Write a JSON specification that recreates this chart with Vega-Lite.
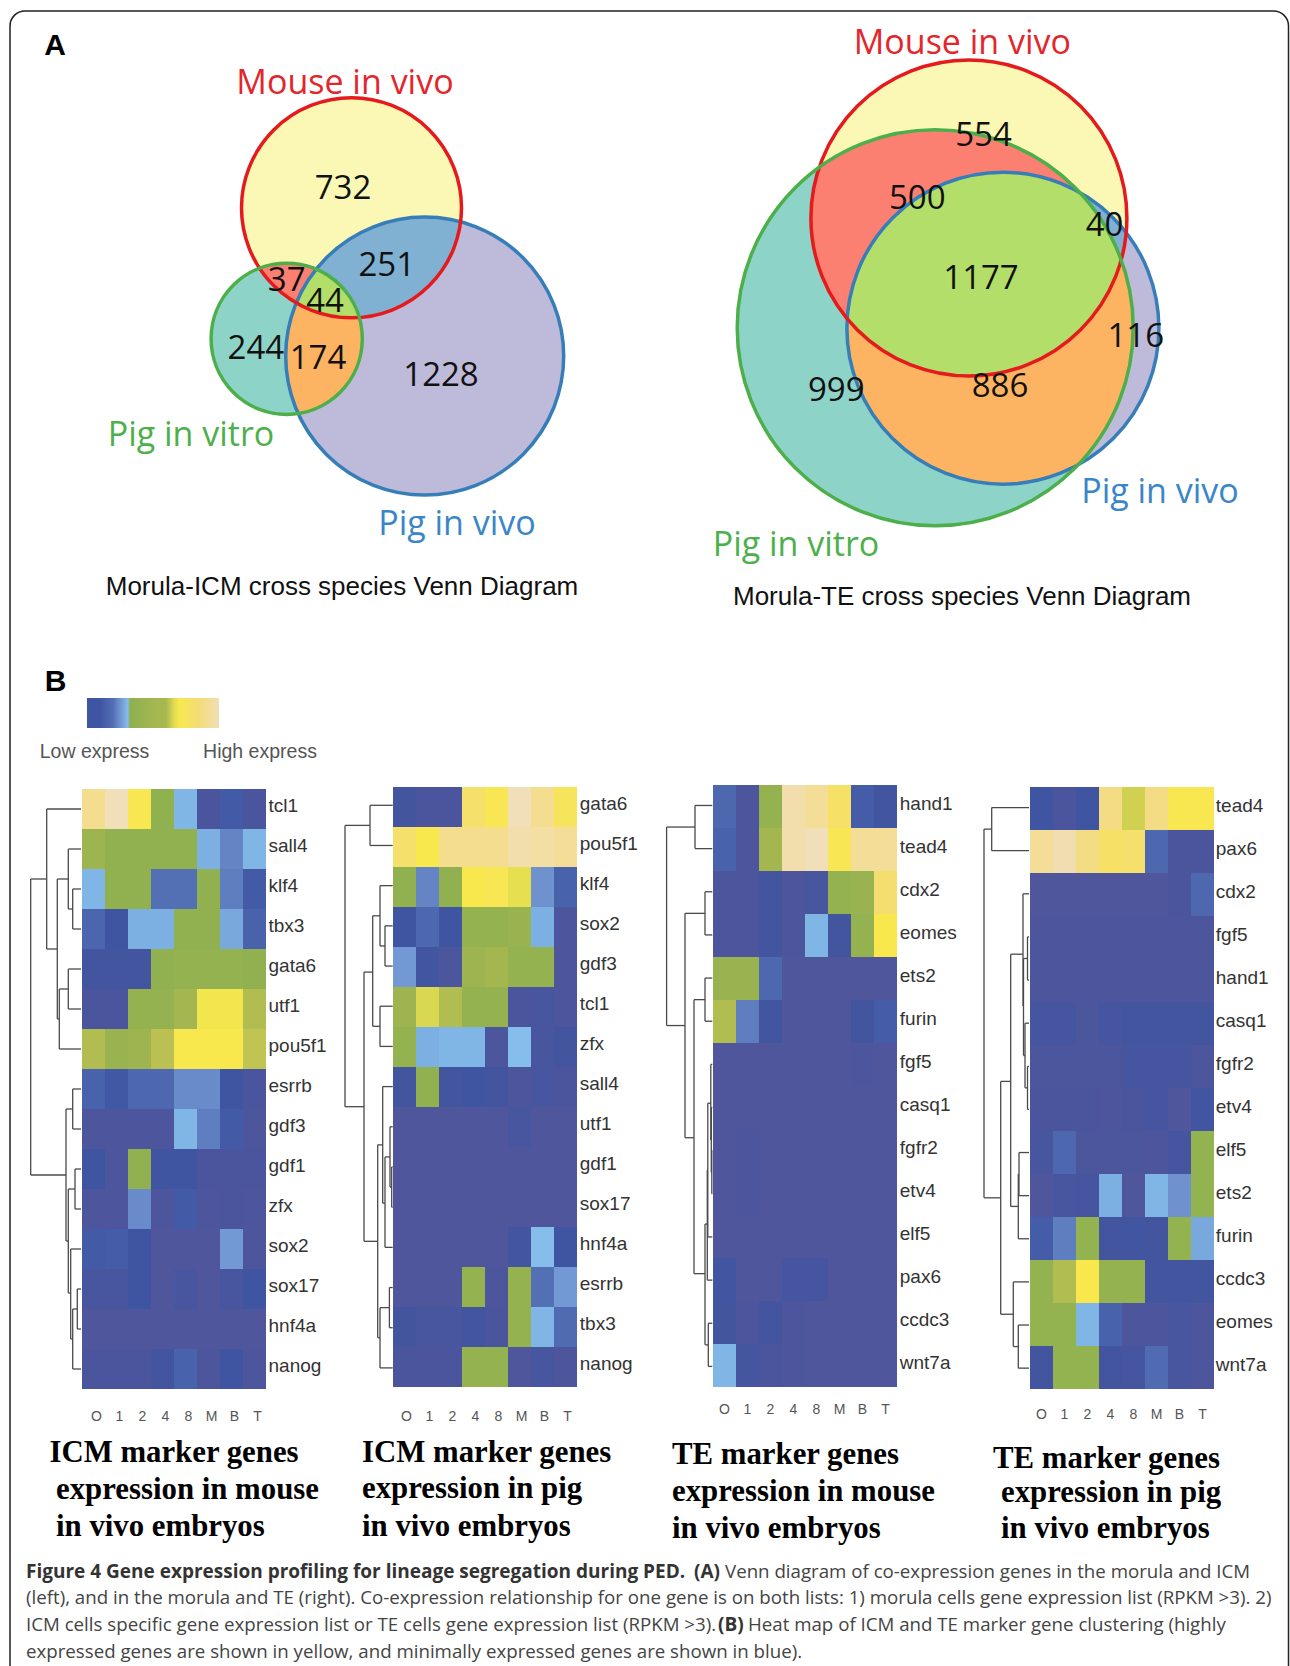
{"$schema":"https://vega.github.io/schema/vega-lite/v6.json","width":1290,"height":1666,"padding":0,"autosize":{"type":"none"},"background":"white","config":{"view":{"stroke":null}},
"resolve":{"scale":{"x":"independent","y":"independent","color":"independent"},"axis":{"x":"independent","y":"independent"}},
"datasets":{
"sets":[{"venn":"ICM","set":"Pig in vivo","x":424.7,"y":356.1,"r":139},{"venn":"ICM","set":"Mouse in vivo","x":351.5,"y":207.8,"r":110},{"venn":"ICM","set":"Pig in vitro","x":286.7,"y":338.8,"r":75.6},{"venn":"TE","set":"Pig in vivo","x":1002.9,"y":328.2,"r":156},{"venn":"TE","set":"Mouse in vivo","x":968.9,"y":218,"r":158},{"venn":"TE","set":"Pig in vitro","x":935.2,"y":327.8,"r":198}],
"h1":[
{"gene":"tcl1","stage":"O","value":0.9},{"gene":"tcl1","stage":"1","value":1},{"gene":"tcl1","stage":"2","value":0.71},{"gene":"tcl1","stage":"4","value":0.34},{"gene":"tcl1","stage":"8","value":0.3},{"gene":"tcl1","stage":"M","value":0.05},{"gene":"tcl1","stage":"B","value":0.12},{"gene":"tcl1","stage":"T","value":0.05},
{"gene":"sall4","stage":"O","value":0.45},{"gene":"sall4","stage":"1","value":0.36},{"gene":"sall4","stage":"2","value":0.36},{"gene":"sall4","stage":"4","value":0.36},{"gene":"sall4","stage":"8","value":0.36},{"gene":"sall4","stage":"M","value":0.29},{"gene":"sall4","stage":"B","value":0.23},{"gene":"sall4","stage":"T","value":0.3},
{"gene":"klf4","stage":"O","value":0.3},{"gene":"klf4","stage":"1","value":0.36},{"gene":"klf4","stage":"2","value":0.36},{"gene":"klf4","stage":"4","value":0.2},{"gene":"klf4","stage":"8","value":0.2},{"gene":"klf4","stage":"M","value":0.36},{"gene":"klf4","stage":"B","value":0.22},{"gene":"klf4","stage":"T","value":0.12},
{"gene":"tbx3","stage":"O","value":0.16},{"gene":"tbx3","stage":"1","value":0.1},{"gene":"tbx3","stage":"2","value":0.29},{"gene":"tbx3","stage":"4","value":0.29},{"gene":"tbx3","stage":"8","value":0.36},{"gene":"tbx3","stage":"M","value":0.36},{"gene":"tbx3","stage":"B","value":0.28},{"gene":"tbx3","stage":"T","value":0.15},
{"gene":"gata6","stage":"O","value":0.08},{"gene":"gata6","stage":"1","value":0.08},{"gene":"gata6","stage":"2","value":0.08},{"gene":"gata6","stage":"4","value":0.36},{"gene":"gata6","stage":"8","value":0.38},{"gene":"gata6","stage":"M","value":0.38},{"gene":"gata6","stage":"B","value":0.38},{"gene":"gata6","stage":"T","value":0.36},
{"gene":"utf1","stage":"O","value":0.05},{"gene":"utf1","stage":"1","value":0.05},{"gene":"utf1","stage":"2","value":0.38},{"gene":"utf1","stage":"4","value":0.38},{"gene":"utf1","stage":"8","value":0.5},{"gene":"utf1","stage":"M","value":0.69},{"gene":"utf1","stage":"B","value":0.69},{"gene":"utf1","stage":"T","value":0.55},
{"gene":"pou5f1","stage":"O","value":0.55},{"gene":"pou5f1","stage":"1","value":0.42},{"gene":"pou5f1","stage":"2","value":0.45},{"gene":"pou5f1","stage":"4","value":0.58},{"gene":"pou5f1","stage":"8","value":0.7},{"gene":"pou5f1","stage":"M","value":0.7},{"gene":"pou5f1","stage":"B","value":0.7},{"gene":"pou5f1","stage":"T","value":0.6},
{"gene":"esrrb","stage":"O","value":0.15},{"gene":"esrrb","stage":"1","value":0.11},{"gene":"esrrb","stage":"2","value":0.17},{"gene":"esrrb","stage":"4","value":0.17},{"gene":"esrrb","stage":"8","value":0.24},{"gene":"esrrb","stage":"M","value":0.24},{"gene":"esrrb","stage":"B","value":0.1},{"gene":"esrrb","stage":"T","value":0.05},
{"gene":"gdf3","stage":"O","value":0.03},{"gene":"gdf3","stage":"1","value":0.03},{"gene":"gdf3","stage":"2","value":0.03},{"gene":"gdf3","stage":"4","value":0.03},{"gene":"gdf3","stage":"8","value":0.3},{"gene":"gdf3","stage":"M","value":0.22},{"gene":"gdf3","stage":"B","value":0.12},{"gene":"gdf3","stage":"T","value":0.03},
{"gene":"gdf1","stage":"O","value":0.1},{"gene":"gdf1","stage":"1","value":0.03},{"gene":"gdf1","stage":"2","value":0.36},{"gene":"gdf1","stage":"4","value":0.1},{"gene":"gdf1","stage":"8","value":0.1},{"gene":"gdf1","stage":"M","value":0.05},{"gene":"gdf1","stage":"B","value":0.05},{"gene":"gdf1","stage":"T","value":0.05},
{"gene":"zfx","stage":"O","value":0.03},{"gene":"zfx","stage":"1","value":0.03},{"gene":"zfx","stage":"2","value":0.24},{"gene":"zfx","stage":"4","value":0.03},{"gene":"zfx","stage":"8","value":0.12},{"gene":"zfx","stage":"M","value":0.03},{"gene":"zfx","stage":"B","value":0.05},{"gene":"zfx","stage":"T","value":0.03},
{"gene":"sox2","stage":"O","value":0.12},{"gene":"sox2","stage":"1","value":0.13},{"gene":"sox2","stage":"2","value":0.1},{"gene":"sox2","stage":"4","value":0.02},{"gene":"sox2","stage":"8","value":0.02},{"gene":"sox2","stage":"M","value":0.02},{"gene":"sox2","stage":"B","value":0.26},{"gene":"sox2","stage":"T","value":0.03},
{"gene":"sox17","stage":"O","value":0.06},{"gene":"sox17","stage":"1","value":0.06},{"gene":"sox17","stage":"2","value":0.1},{"gene":"sox17","stage":"4","value":0.02},{"gene":"sox17","stage":"8","value":0.06},{"gene":"sox17","stage":"M","value":0.02},{"gene":"sox17","stage":"B","value":0.06},{"gene":"sox17","stage":"T","value":0.1},
{"gene":"hnf4a","stage":"O","value":0.02},{"gene":"hnf4a","stage":"1","value":0.02},{"gene":"hnf4a","stage":"2","value":0.02},{"gene":"hnf4a","stage":"4","value":0.02},{"gene":"hnf4a","stage":"8","value":0.02},{"gene":"hnf4a","stage":"M","value":0.02},{"gene":"hnf4a","stage":"B","value":0.02},{"gene":"hnf4a","stage":"T","value":0.02},
{"gene":"nanog","stage":"O","value":0.05},{"gene":"nanog","stage":"1","value":0.05},{"gene":"nanog","stage":"2","value":0.05},{"gene":"nanog","stage":"4","value":0.08},{"gene":"nanog","stage":"8","value":0.15},{"gene":"nanog","stage":"M","value":0.03},{"gene":"nanog","stage":"B","value":0.1},{"gene":"nanog","stage":"T","value":0.03}],
"h2":[
{"gene":"gata6","stage":"O","value":0.08},{"gene":"gata6","stage":"1","value":0.05},{"gene":"gata6","stage":"2","value":0.05},{"gene":"gata6","stage":"4","value":0.8},{"gene":"gata6","stage":"8","value":0.72},{"gene":"gata6","stage":"M","value":1},{"gene":"gata6","stage":"B","value":0.9},{"gene":"gata6","stage":"T","value":0.75},
{"gene":"pou5f1","stage":"O","value":0.8},{"gene":"pou5f1","stage":"1","value":0.7},{"gene":"pou5f1","stage":"2","value":0.9},{"gene":"pou5f1","stage":"4","value":0.9},{"gene":"pou5f1","stage":"8","value":0.9},{"gene":"pou5f1","stage":"M","value":0.97},{"gene":"pou5f1","stage":"B","value":0.95},{"gene":"pou5f1","stage":"T","value":0.92},
{"gene":"klf4","stage":"O","value":0.36},{"gene":"klf4","stage":"1","value":0.23},{"gene":"klf4","stage":"2","value":0.36},{"gene":"klf4","stage":"4","value":0.7},{"gene":"klf4","stage":"8","value":0.72},{"gene":"klf4","stage":"M","value":0.67},{"gene":"klf4","stage":"B","value":0.25},{"gene":"klf4","stage":"T","value":0.15},
{"gene":"sox2","stage":"O","value":0.1},{"gene":"sox2","stage":"1","value":0.17},{"gene":"sox2","stage":"2","value":0.1},{"gene":"sox2","stage":"4","value":0.38},{"gene":"sox2","stage":"8","value":0.38},{"gene":"sox2","stage":"M","value":0.42},{"gene":"sox2","stage":"B","value":0.29},{"gene":"sox2","stage":"T","value":0.03},
{"gene":"gdf3","stage":"O","value":0.26},{"gene":"gdf3","stage":"1","value":0.09},{"gene":"gdf3","stage":"2","value":0.04},{"gene":"gdf3","stage":"4","value":0.45},{"gene":"gdf3","stage":"8","value":0.5},{"gene":"gdf3","stage":"M","value":0.38},{"gene":"gdf3","stage":"B","value":0.38},{"gene":"gdf3","stage":"T","value":0.03},
{"gene":"tcl1","stage":"O","value":0.45},{"gene":"tcl1","stage":"1","value":0.65},{"gene":"tcl1","stage":"2","value":0.55},{"gene":"tcl1","stage":"4","value":0.38},{"gene":"tcl1","stage":"8","value":0.38},{"gene":"tcl1","stage":"M","value":0.05},{"gene":"tcl1","stage":"B","value":0.06},{"gene":"tcl1","stage":"T","value":0.03},
{"gene":"zfx","stage":"O","value":0.38},{"gene":"zfx","stage":"1","value":0.29},{"gene":"zfx","stage":"2","value":0.3},{"gene":"zfx","stage":"4","value":0.3},{"gene":"zfx","stage":"8","value":0.04},{"gene":"zfx","stage":"M","value":0.31},{"gene":"zfx","stage":"B","value":0.06},{"gene":"zfx","stage":"T","value":0.08},
{"gene":"sall4","stage":"O","value":0.08},{"gene":"sall4","stage":"1","value":0.36},{"gene":"sall4","stage":"2","value":0.08},{"gene":"sall4","stage":"4","value":0.1},{"gene":"sall4","stage":"8","value":0.08},{"gene":"sall4","stage":"M","value":0.03},{"gene":"sall4","stage":"B","value":0.06},{"gene":"sall4","stage":"T","value":0.05},
{"gene":"utf1","stage":"O","value":0.02},{"gene":"utf1","stage":"1","value":0.02},{"gene":"utf1","stage":"2","value":0.02},{"gene":"utf1","stage":"4","value":0.02},{"gene":"utf1","stage":"8","value":0.02},{"gene":"utf1","stage":"M","value":0.06},{"gene":"utf1","stage":"B","value":0.02},{"gene":"utf1","stage":"T","value":0.02},
{"gene":"gdf1","stage":"O","value":0.02},{"gene":"gdf1","stage":"1","value":0.02},{"gene":"gdf1","stage":"2","value":0.02},{"gene":"gdf1","stage":"4","value":0.02},{"gene":"gdf1","stage":"8","value":0.02},{"gene":"gdf1","stage":"M","value":0.02},{"gene":"gdf1","stage":"B","value":0.02},{"gene":"gdf1","stage":"T","value":0.02},
{"gene":"sox17","stage":"O","value":0.02},{"gene":"sox17","stage":"1","value":0.02},{"gene":"sox17","stage":"2","value":0.02},{"gene":"sox17","stage":"4","value":0.02},{"gene":"sox17","stage":"8","value":0.02},{"gene":"sox17","stage":"M","value":0.02},{"gene":"sox17","stage":"B","value":0.02},{"gene":"sox17","stage":"T","value":0.02},
{"gene":"hnf4a","stage":"O","value":0.02},{"gene":"hnf4a","stage":"1","value":0.02},{"gene":"hnf4a","stage":"2","value":0.02},{"gene":"hnf4a","stage":"4","value":0.02},{"gene":"hnf4a","stage":"8","value":0.02},{"gene":"hnf4a","stage":"M","value":0.08},{"gene":"hnf4a","stage":"B","value":0.31},{"gene":"hnf4a","stage":"T","value":0.1},
{"gene":"esrrb","stage":"O","value":0.02},{"gene":"esrrb","stage":"1","value":0.02},{"gene":"esrrb","stage":"2","value":0.02},{"gene":"esrrb","stage":"4","value":0.38},{"gene":"esrrb","stage":"8","value":0.03},{"gene":"esrrb","stage":"M","value":0.38},{"gene":"esrrb","stage":"B","value":0.2},{"gene":"esrrb","stage":"T","value":0.26},
{"gene":"tbx3","stage":"O","value":0.08},{"gene":"tbx3","stage":"1","value":0.06},{"gene":"tbx3","stage":"2","value":0.06},{"gene":"tbx3","stage":"4","value":0.08},{"gene":"tbx3","stage":"8","value":0.05},{"gene":"tbx3","stage":"M","value":0.38},{"gene":"tbx3","stage":"B","value":0.3},{"gene":"tbx3","stage":"T","value":0.18},
{"gene":"nanog","stage":"O","value":0.05},{"gene":"nanog","stage":"1","value":0.05},{"gene":"nanog","stage":"2","value":0.05},{"gene":"nanog","stage":"4","value":0.38},{"gene":"nanog","stage":"8","value":0.38},{"gene":"nanog","stage":"M","value":0.02},{"gene":"nanog","stage":"B","value":0.06},{"gene":"nanog","stage":"T","value":0.03}],
"h3":[
{"gene":"hand1","stage":"O","value":0.17},{"gene":"hand1","stage":"1","value":0.03},{"gene":"hand1","stage":"2","value":0.38},{"gene":"hand1","stage":"4","value":0.97},{"gene":"hand1","stage":"8","value":0.92},{"gene":"hand1","stage":"M","value":0.78},{"gene":"hand1","stage":"B","value":0.13},{"gene":"hand1","stage":"T","value":0.09},
{"gene":"tead4","stage":"O","value":0.15},{"gene":"tead4","stage":"1","value":0.03},{"gene":"tead4","stage":"2","value":0.5},{"gene":"tead4","stage":"4","value":0.97},{"gene":"tead4","stage":"8","value":1},{"gene":"tead4","stage":"M","value":0.72},{"gene":"tead4","stage":"B","value":0.92},{"gene":"tead4","stage":"T","value":0.92},
{"gene":"cdx2","stage":"O","value":0.03},{"gene":"cdx2","stage":"1","value":0.03},{"gene":"cdx2","stage":"2","value":0.08},{"gene":"cdx2","stage":"4","value":0.03},{"gene":"cdx2","stage":"8","value":0.06},{"gene":"cdx2","stage":"M","value":0.38},{"gene":"cdx2","stage":"B","value":0.42},{"gene":"cdx2","stage":"T","value":0.82},
{"gene":"eomes","stage":"O","value":0.03},{"gene":"eomes","stage":"1","value":0.03},{"gene":"eomes","stage":"2","value":0.08},{"gene":"eomes","stage":"4","value":0.03},{"gene":"eomes","stage":"8","value":0.3},{"gene":"eomes","stage":"M","value":0.08},{"gene":"eomes","stage":"B","value":0.38},{"gene":"eomes","stage":"T","value":0.7},
{"gene":"ets2","stage":"O","value":0.42},{"gene":"ets2","stage":"1","value":0.42},{"gene":"ets2","stage":"2","value":0.17},{"gene":"ets2","stage":"4","value":0.02},{"gene":"ets2","stage":"8","value":0.02},{"gene":"ets2","stage":"M","value":0.02},{"gene":"ets2","stage":"B","value":0.02},{"gene":"ets2","stage":"T","value":0.02},
{"gene":"furin","stage":"O","value":0.55},{"gene":"furin","stage":"1","value":0.22},{"gene":"furin","stage":"2","value":0.09},{"gene":"furin","stage":"4","value":0.02},{"gene":"furin","stage":"8","value":0.02},{"gene":"furin","stage":"M","value":0.02},{"gene":"furin","stage":"B","value":0.08},{"gene":"furin","stage":"T","value":0.13},
{"gene":"fgf5","stage":"O","value":0.02},{"gene":"fgf5","stage":"1","value":0.02},{"gene":"fgf5","stage":"2","value":0.02},{"gene":"fgf5","stage":"4","value":0.02},{"gene":"fgf5","stage":"8","value":0.02},{"gene":"fgf5","stage":"M","value":0.02},{"gene":"fgf5","stage":"B","value":0.03},{"gene":"fgf5","stage":"T","value":0.02},
{"gene":"casq1","stage":"O","value":0.02},{"gene":"casq1","stage":"1","value":0.02},{"gene":"casq1","stage":"2","value":0.02},{"gene":"casq1","stage":"4","value":0.02},{"gene":"casq1","stage":"8","value":0.02},{"gene":"casq1","stage":"M","value":0.02},{"gene":"casq1","stage":"B","value":0.02},{"gene":"casq1","stage":"T","value":0.02},
{"gene":"fgfr2","stage":"O","value":0.02},{"gene":"fgfr2","stage":"1","value":0.03},{"gene":"fgfr2","stage":"2","value":0.02},{"gene":"fgfr2","stage":"4","value":0.02},{"gene":"fgfr2","stage":"8","value":0.02},{"gene":"fgfr2","stage":"M","value":0.02},{"gene":"fgfr2","stage":"B","value":0.02},{"gene":"fgfr2","stage":"T","value":0.02},
{"gene":"etv4","stage":"O","value":0.02},{"gene":"etv4","stage":"1","value":0.03},{"gene":"etv4","stage":"2","value":0.02},{"gene":"etv4","stage":"4","value":0.02},{"gene":"etv4","stage":"8","value":0.02},{"gene":"etv4","stage":"M","value":0.02},{"gene":"etv4","stage":"B","value":0.02},{"gene":"etv4","stage":"T","value":0.02},
{"gene":"elf5","stage":"O","value":0.02},{"gene":"elf5","stage":"1","value":0.02},{"gene":"elf5","stage":"2","value":0.02},{"gene":"elf5","stage":"4","value":0.02},{"gene":"elf5","stage":"8","value":0.02},{"gene":"elf5","stage":"M","value":0.02},{"gene":"elf5","stage":"B","value":0.02},{"gene":"elf5","stage":"T","value":0.02},
{"gene":"pax6","stage":"O","value":0.09},{"gene":"pax6","stage":"1","value":0.02},{"gene":"pax6","stage":"2","value":0.02},{"gene":"pax6","stage":"4","value":0.07},{"gene":"pax6","stage":"8","value":0.07},{"gene":"pax6","stage":"M","value":0.02},{"gene":"pax6","stage":"B","value":0.02},{"gene":"pax6","stage":"T","value":0.02},
{"gene":"ccdc3","stage":"O","value":0.08},{"gene":"ccdc3","stage":"1","value":0.03},{"gene":"ccdc3","stage":"2","value":0.08},{"gene":"ccdc3","stage":"4","value":0.03},{"gene":"ccdc3","stage":"8","value":0.02},{"gene":"ccdc3","stage":"M","value":0.02},{"gene":"ccdc3","stage":"B","value":0.02},{"gene":"ccdc3","stage":"T","value":0.02},
{"gene":"wnt7a","stage":"O","value":0.3},{"gene":"wnt7a","stage":"1","value":0.07},{"gene":"wnt7a","stage":"2","value":0.05},{"gene":"wnt7a","stage":"4","value":0.03},{"gene":"wnt7a","stage":"8","value":0.02},{"gene":"wnt7a","stage":"M","value":0.02},{"gene":"wnt7a","stage":"B","value":0.02},{"gene":"wnt7a","stage":"T","value":0.02}],
"h4":[
{"gene":"tead4","stage":"O","value":0.1},{"gene":"tead4","stage":"1","value":0.05},{"gene":"tead4","stage":"2","value":0.1},{"gene":"tead4","stage":"4","value":0.88},{"gene":"tead4","stage":"8","value":0.63},{"gene":"tead4","stage":"M","value":0.88},{"gene":"tead4","stage":"B","value":0.71},{"gene":"tead4","stage":"T","value":0.71},
{"gene":"pax6","stage":"O","value":0.92},{"gene":"pax6","stage":"1","value":0.98},{"gene":"pax6","stage":"2","value":0.88},{"gene":"pax6","stage":"4","value":0.78},{"gene":"pax6","stage":"8","value":0.8},{"gene":"pax6","stage":"M","value":0.17},{"gene":"pax6","stage":"B","value":0.05},{"gene":"pax6","stage":"T","value":0.05},
{"gene":"cdx2","stage":"O","value":0.02},{"gene":"cdx2","stage":"1","value":0.02},{"gene":"cdx2","stage":"2","value":0.02},{"gene":"cdx2","stage":"4","value":0.02},{"gene":"cdx2","stage":"8","value":0.02},{"gene":"cdx2","stage":"M","value":0.02},{"gene":"cdx2","stage":"B","value":0.05},{"gene":"cdx2","stage":"T","value":0.17},
{"gene":"fgf5","stage":"O","value":0.03},{"gene":"fgf5","stage":"1","value":0.03},{"gene":"fgf5","stage":"2","value":0.03},{"gene":"fgf5","stage":"4","value":0.03},{"gene":"fgf5","stage":"8","value":0.03},{"gene":"fgf5","stage":"M","value":0.03},{"gene":"fgf5","stage":"B","value":0.03},{"gene":"fgf5","stage":"T","value":0.03},
{"gene":"hand1","stage":"O","value":0.03},{"gene":"hand1","stage":"1","value":0.03},{"gene":"hand1","stage":"2","value":0.03},{"gene":"hand1","stage":"4","value":0.03},{"gene":"hand1","stage":"8","value":0.03},{"gene":"hand1","stage":"M","value":0.03},{"gene":"hand1","stage":"B","value":0.03},{"gene":"hand1","stage":"T","value":0.03},
{"gene":"casq1","stage":"O","value":0.07},{"gene":"casq1","stage":"1","value":0.07},{"gene":"casq1","stage":"2","value":0.04},{"gene":"casq1","stage":"4","value":0.07},{"gene":"casq1","stage":"8","value":0.08},{"gene":"casq1","stage":"M","value":0.08},{"gene":"casq1","stage":"B","value":0.08},{"gene":"casq1","stage":"T","value":0.08},
{"gene":"fgfr2","stage":"O","value":0.04},{"gene":"fgfr2","stage":"1","value":0.04},{"gene":"fgfr2","stage":"2","value":0.04},{"gene":"fgfr2","stage":"4","value":0.04},{"gene":"fgfr2","stage":"8","value":0.07},{"gene":"fgfr2","stage":"M","value":0.07},{"gene":"fgfr2","stage":"B","value":0.07},{"gene":"fgfr2","stage":"T","value":0.03},
{"gene":"etv4","stage":"O","value":0.05},{"gene":"etv4","stage":"1","value":0.05},{"gene":"etv4","stage":"2","value":0.05},{"gene":"etv4","stage":"4","value":0.03},{"gene":"etv4","stage":"8","value":0.05},{"gene":"etv4","stage":"M","value":0.07},{"gene":"etv4","stage":"B","value":0.02},{"gene":"etv4","stage":"T","value":0.09},
{"gene":"elf5","stage":"O","value":0.06},{"gene":"elf5","stage":"1","value":0.17},{"gene":"elf5","stage":"2","value":0.04},{"gene":"elf5","stage":"4","value":0.04},{"gene":"elf5","stage":"8","value":0.04},{"gene":"elf5","stage":"M","value":0.03},{"gene":"elf5","stage":"B","value":0.07},{"gene":"elf5","stage":"T","value":0.37},
{"gene":"ets2","stage":"O","value":0.02},{"gene":"ets2","stage":"1","value":0.06},{"gene":"ets2","stage":"2","value":0.07},{"gene":"ets2","stage":"4","value":0.29},{"gene":"ets2","stage":"8","value":0.02},{"gene":"ets2","stage":"M","value":0.3},{"gene":"ets2","stage":"B","value":0.25},{"gene":"ets2","stage":"T","value":0.37},
{"gene":"furin","stage":"O","value":0.13},{"gene":"furin","stage":"1","value":0.22},{"gene":"furin","stage":"2","value":0.37},{"gene":"furin","stage":"4","value":0.08},{"gene":"furin","stage":"8","value":0.09},{"gene":"furin","stage":"M","value":0.08},{"gene":"furin","stage":"B","value":0.37},{"gene":"furin","stage":"T","value":0.28},
{"gene":"ccdc3","stage":"O","value":0.37},{"gene":"ccdc3","stage":"1","value":0.55},{"gene":"ccdc3","stage":"2","value":0.7},{"gene":"ccdc3","stage":"4","value":0.38},{"gene":"ccdc3","stage":"8","value":0.38},{"gene":"ccdc3","stage":"M","value":0.08},{"gene":"ccdc3","stage":"B","value":0.08},{"gene":"ccdc3","stage":"T","value":0.08},
{"gene":"eomes","stage":"O","value":0.37},{"gene":"eomes","stage":"1","value":0.37},{"gene":"eomes","stage":"2","value":0.3},{"gene":"eomes","stage":"4","value":0.15},{"gene":"eomes","stage":"8","value":0.03},{"gene":"eomes","stage":"M","value":0.03},{"gene":"eomes","stage":"B","value":0.06},{"gene":"eomes","stage":"T","value":0.03},
{"gene":"wnt7a","stage":"O","value":0.08},{"gene":"wnt7a","stage":"1","value":0.37},{"gene":"wnt7a","stage":"2","value":0.37},{"gene":"wnt7a","stage":"4","value":0.08},{"gene":"wnt7a","stage":"8","value":0.07},{"gene":"wnt7a","stage":"M","value":0.18},{"gene":"wnt7a","stage":"B","value":0.06},{"gene":"wnt7a","stage":"T","value":0.03}],
"d1":[{"d":8.3,"r1":2.5,"d1":0,"r2":3.5,"d2":0},{"d":12.7,"r1":1.5,"d1":0,"r2":3,"d2":8.3},{"d":12.7,"r1":4.5,"d1":0,"r2":5.5,"d2":0},{"d":21.7,"r1":5,"d1":12.7,"r2":6.5,"d2":0},{"d":23.7,"r1":2.25,"d1":12.7,"r2":5.75,"d2":21.7},{"d":34.3,"r1":0.5,"d1":0,"r2":4,"d2":23.7},{"d":8.3,"r1":7.5,"d1":0,"r2":8.5,"d2":0},{"d":6,"r1":9.5,"d1":0,"r2":10.5,"d2":0},{"d":3.7,"r1":12.5,"d1":0,"r2":13.5,"d2":0},{"d":8.3,"r1":13,"d1":3.7,"r2":14.5,"d2":0},{"d":10.3,"r1":11.5,"d1":0,"r2":13.75,"d2":8.3},{"d":12.7,"r1":10,"d1":6,"r2":12.6,"d2":10.3},{"d":15,"r1":8,"d1":8.3,"r2":11.3,"d2":12.7},{"d":50.3,"r1":2.25,"d1":34.3,"r2":9.65,"d2":15}],
"d2":[{"d":22.7,"r1":0.5,"d1":0,"r2":1.5,"d2":0},{"d":7.7,"r1":3.5,"d1":0,"r2":4.5,"d2":0},{"d":12.7,"r1":2.5,"d1":0,"r2":4,"d2":7.7},{"d":12.7,"r1":5.5,"d1":0,"r2":6.5,"d2":0},{"d":20,"r1":3.25,"d1":12.7,"r2":6,"d2":12.7},{"d":1,"r1":9.5,"d1":0,"r2":10.5,"d2":0},{"d":2.7,"r1":8.5,"d1":0,"r2":10,"d2":1},{"d":7.7,"r1":9.25,"d1":2.7,"r2":11.5,"d2":0},{"d":10,"r1":7.5,"d1":0,"r2":10.4,"d2":7.7},{"d":3.3,"r1":12.5,"d1":0,"r2":13.5,"d2":0},{"d":12.7,"r1":13,"d1":3.3,"r2":14.5,"d2":0},{"d":15,"r1":8.95,"d1":10,"r2":13.75,"d2":12.7},{"d":28.7,"r1":4.65,"d1":20,"r2":11.35,"d2":15},{"d":47.7,"r1":1,"d1":22.7,"r2":8,"d2":28.7}],
"d3":[{"d":17.3,"r1":0.5,"d1":0,"r2":1.5,"d2":0},{"d":7.3,"r1":2.5,"d1":0,"r2":3.5,"d2":0},{"d":7.3,"r1":4.5,"d1":0,"r2":5.5,"d2":0},{"d":0.5,"r1":8.5,"d1":0,"r2":9.5,"d2":0},{"d":1,"r1":7.5,"d1":0,"r2":9,"d2":0.5},{"d":1.5,"r1":6.5,"d1":0,"r2":8.25,"d2":1},{"d":4.5,"r1":7.4,"d1":1.5,"r2":10.5,"d2":0},{"d":5,"r1":8.95,"d1":4.5,"r2":11.5,"d2":0},{"d":4,"r1":12.5,"d1":0,"r2":13.5,"d2":0},{"d":7.3,"r1":10.2,"d1":5,"r2":13,"d2":4},{"d":18.3,"r1":5,"d1":7.3,"r2":11.35,"d2":7.3},{"d":27.3,"r1":3,"d1":7.3,"r2":8.2,"d2":18.3},{"d":45.7,"r1":1,"d1":17.3,"r2":5.6,"d2":27.3}],
"d4":[{"d":37.3,"r1":0.5,"d1":0,"r2":1.5,"d2":0},{"d":1.5,"r1":6.5,"d1":0,"r2":7.5,"d2":0},{"d":4,"r1":5.5,"d1":0,"r2":7,"d2":1.5},{"d":1.5,"r1":3.5,"d1":0,"r2":4.5,"d2":0},{"d":5.5,"r1":4,"d1":1.5,"r2":6.25,"d2":4},{"d":6,"r1":2.5,"d1":0,"r2":5.1,"d2":5.5},{"d":10,"r1":8.5,"d1":0,"r2":9.5,"d2":0},{"d":10.7,"r1":9,"d1":10,"r2":10.5,"d2":0},{"d":18.3,"r1":3.9,"d1":6,"r2":9.75,"d2":10.7},{"d":10.7,"r1":12.5,"d1":0,"r2":13.5,"d2":0},{"d":15.7,"r1":11.5,"d1":0,"r2":13,"d2":10.7},{"d":28.3,"r1":6.85,"d1":18.3,"r2":12.25,"d2":15.7},{"d":45,"r1":1,"d1":37.3,"r2":9.55,"d2":28.3}]
},
"layer":[
{"encoding":{"x":{"field":"x","type":"quantitative","axis":null,"scale":{"domain":[0,1290],"range":[0,1290],"nice":false,"zero":false}},"y":{"field":"y","type":"quantitative","axis":null,"scale":{"domain":[0,1666],"range":[0,1666],"nice":false,"zero":false}}},
"layer":[
{"data":{"values":[{"x":649.5,"y":838,"item":"frame"}]},"mark":{"type":"point","shape":"M-639.5 840L-639.5 -812A15 15 0 0 1 -624.5 -827L624 -827A15 15 0 0 1 639 -812L639 840","size":4,"filled":false,"stroke":"#222222","strokeWidth":1.5,"opacity":1}},
{"data":{"name":"sets"},"mark":{"type":"point","filled":true,"opacity":1,"strokeWidth":0},"encoding":{"size":{"field":"r","type":"quantitative","legend":null,"scale":{"type":"pow","exponent":2,"domain":[0,200],"range":[0,160000]}},"fill":{"field":"set","type":"nominal","legend":null,"scale":{"domain":["Mouse in vivo","Pig in vivo","Pig in vitro","Mouse and Pig in vitro","Mouse and Pig in vivo","Pig in vitro and in vivo","All three"],"range":["#FBF7B5","#BEBADA","#8DD3C7","#FB8072","#80B1D3","#FDB462","#B3DE69"]}}}},
{"data":{"values":[
{"x":350,"y":300,"venn":"ICM","region":"Mouse and Pig in vitro","path":"a"},
{"x":350,"y":300,"venn":"ICM","region":"Mouse and Pig in vivo","path":"b"},
{"x":350,"y":300,"venn":"ICM","region":"Pig in vitro and in vivo","path":"c"},
{"x":350,"y":300,"venn":"ICM","region":"All three","path":"d"},
{"x":970,"y":300,"venn":"TE","region":"Mouse and Pig in vitro","path":"e"},
{"x":970,"y":300,"venn":"TE","region":"Mouse and Pig in vivo","path":"f"},
{"x":970,"y":300,"venn":"TE","region":"Pig in vitro and in vivo","path":"g"},
{"x":970,"y":300,"venn":"TE","region":"All three","path":"h"}]},
"mark":{"type":"point","filled":true,"opacity":1,"size":4,"strokeWidth":0},"encoding":{
"shape":{"field":"path","type":"nominal","legend":null,"scale":{"domain":["a","b","c","d","e","f","g","h"],"range":[
"M-90.42 -31.77A75.6 75.6 0 0 1 9.24 17.53A110 110 0 0 1 -90.42 -31.77Z",
"M-53.7 2.9A139 139 0 0 1 110.56 -78.18A110 110 0 0 1 -53.7 2.9Z",
"M-51.88 113.54A139 139 0 0 1 -33.78 -30.8A75.6 75.6 0 0 1 -51.88 113.54Z",
"M-53.7 2.9A139 139 0 0 1 -33.78 -30.8A75.6 75.6 0 0 1 9.24 17.53A110 110 0 0 1 -53.7 2.9Z",
"M-150.73 -132.7A198 198 0 0 1 151.2 -40.02A158 158 0 1 1 -150.73 -132.7Z",
"M-122.8 18.73A156 156 0 0 1 156.2 -67.35A158 158 0 0 1 -122.8 18.73Z",
"M109.66 -107.61A198 198 0 0 1 108.06 164.91A156 156 0 1 1 109.66 -107.61Z",
"M-122.8 18.73A156 156 0 0 1 109.66 -107.61A198 198 0 0 1 151.2 -40.02A158 158 0 0 1 -122.8 18.73Z"]}},
"fill":{"field":"region","type":"nominal","legend":null,"scale":{"domain":["Mouse in vivo","Pig in vivo","Pig in vitro","Mouse and Pig in vitro","Mouse and Pig in vivo","Pig in vitro and in vivo","All three"],"range":["#FBF7B5","#BEBADA","#8DD3C7","#FB8072","#80B1D3","#FDB462","#B3DE69"]}}}},
{"data":{"name":"sets"},"mark":{"type":"point","filled":false,"opacity":1,"strokeWidth":3.5},"encoding":{"size":{"field":"r","type":"quantitative","legend":null,"scale":{"type":"pow","exponent":2,"domain":[0,200],"range":[0,160000]}},"stroke":{"field":"set","type":"nominal","legend":null,"scale":{"domain":["Mouse in vivo","Pig in vivo","Pig in vitro"],"range":["#E41A1C","#377EB8","#4DAF4A"]}}}},
{"data":{"values":[{"x":345,"y":94,"text":"Mouse in vivo","set":"Mouse in vivo"},{"x":191,"y":445.7,"text":"Pig in vitro","set":"Pig in vitro"},{"x":457,"y":534.7,"text":"Pig in vivo","set":"Pig in vivo"},{"x":962.4,"y":54,"text":"Mouse in vivo","set":"Mouse in vivo"},{"x":796,"y":556,"text":"Pig in vitro","set":"Pig in vitro"},{"x":1160,"y":503,"text":"Pig in vivo","set":"Pig in vivo"}]},"mark":{"type":"text","font":"Open Sans","fontSize":34,"align":"center","baseline":"alphabetic"},"encoding":{"text":{"field":"text"},"color":{"field":"set","type":"nominal","legend":null,"scale":{"domain":["Mouse in vivo","Pig in vivo","Pig in vitro"],"range":["#E4262C","#3A86C8","#4DB04A"]}}}},
{"data":{"values":[{"x":343,"y":198.8,"text":"732"},{"x":386.7,"y":275.5,"text":"251"},{"x":286.7,"y":290.6,"text":"37"},{"x":325,"y":312,"text":"44"},{"x":255.9,"y":359,"text":"244"},{"x":318,"y":368.6,"text":"174"},{"x":441,"y":385.7,"text":"1228"},{"x":983.5,"y":146,"text":"554"},{"x":917.3,"y":209,"text":"500"},{"x":1104.5,"y":236,"text":"40"},{"x":981,"y":288.6,"text":"1177"},{"x":1135.7,"y":347,"text":"116"},{"x":836.3,"y":401,"text":"999"},{"x":1000,"y":396.7,"text":"886"}]},"mark":{"type":"text","font":"Open Sans","fontSize":33,"align":"center","baseline":"alphabetic","color":"#111111"},"encoding":{"text":{"field":"text"}}},
{"data":{"values":[{"x":342,"y":595,"text":"Morula-ICM cross species Venn Diagram"},{"x":962,"y":605.3,"text":"Morula-TE cross species Venn Diagram"}]},"mark":{"type":"text","font":"Liberation Sans","fontSize":26,"align":"center","baseline":"alphabetic","color":"#111111"},"encoding":{"text":{"field":"text"}}},
{"data":{"values":[{"x":55,"y":55,"text":"A"},{"x":55.5,"y":691,"text":"B"}]},"mark":{"type":"text","font":"Liberation Sans","fontWeight":"bold","fontSize":30,"align":"center","baseline":"alphabetic","color":"#000000"},"encoding":{"text":{"field":"text"}}},
{"data":{"values":[{"x":94.5,"y":758,"text":"Low express"},{"x":260,"y":758,"text":"High express"}]},"mark":{"type":"text","font":"Liberation Sans","fontSize":19.5,"align":"center","baseline":"alphabetic","color":"#555555"},"encoding":{"text":{"field":"text"}}},
{"data":{"values":[{"x":49.4,"y":1461.7,"text":"ICM marker genes"},{"x":56,"y":1499,"text":"expression in mouse"},{"x":56,"y":1536,"text":"in vivo embryos"},{"x":362,"y":1461.7,"text":"ICM marker genes"},{"x":362,"y":1498,"text":"expression in pig"},{"x":362,"y":1536,"text":"in vivo embryos"},{"x":672,"y":1464,"text":"TE marker genes"},{"x":672,"y":1500.7,"text":"expression in mouse"},{"x":672,"y":1537.7,"text":"in vivo embryos"},{"x":993,"y":1468,"text":"TE marker genes"},{"x":1001,"y":1501.7,"text":"expression in pig"},{"x":1001,"y":1538,"text":"in vivo embryos"}]},"mark":{"type":"text","font":"Liberation Serif","fontWeight":"bold","fontSize":30.8,"align":"left","baseline":"alphabetic","color":"#000000"},"encoding":{"text":{"field":"text"}}},
{"data":{"values":[{"x":26,"y":1578,"text":"Figure 4 Gene expression profiling for lineage segregation during PED."},{"x":694,"y":1578,"text":"(A)"},{"x":718,"y":1631,"text":"(B)"}]},"mark":{"type":"text","font":"Open Sans","fontWeight":"bold","fontSize":19,"align":"left","baseline":"alphabetic","color":"#333333"},"encoding":{"text":{"field":"text"}}},
{"data":{"values":[{"x":725,"y":1578,"text":"Venn diagram of co-expression genes in the morula and ICM"},{"x":26,"y":1604,"text":"(left), and in the morula and TE (right). Co-expression relationship for one gene is on both lists: 1) morula cells gene expression list (RPKM >3). 2)"},{"x":26,"y":1631,"text":"ICM cells specific gene expression list or TE cells gene expression list (RPKM >3)."},{"x":748,"y":1631,"text":"Heat map of ICM and TE marker gene clustering (highly"},{"x":26,"y":1657.7,"text":"expressed genes are shown in yellow, and minimally expressed genes are shown in blue)."}]},"mark":{"type":"text","font":"Open Sans","fontSize":18.7,"align":"left","baseline":"alphabetic","color":"#444444"},"encoding":{"text":{"field":"text"}}}
]},
{"data":{"values":[{"bar":"Expression","end":"Low express to High express"}]},
"mark":{"type":"rect","color":{"gradient":"linear","x1":0,"y1":0,"x2":1,"y2":0,"stops":[{"offset":0,"color":"#3F55A2"},{"offset":0.1,"color":"#3F55A2"},{"offset":0.2,"color":"#5470B5"},{"offset":0.25,"color":"#6F92CE"},{"offset":0.31,"color":"#85BDEB"},{"offset":0.325,"color":"#8DB050"},{"offset":0.5,"color":"#A3B650"},{"offset":0.6,"color":"#A8B850"},{"offset":0.66,"color":"#E0DC50"},{"offset":0.7,"color":"#F8E84E"},{"offset":0.85,"color":"#F3DC78"},{"offset":1,"color":"#F0DFB8"}]}},"encoding":{"x":{"field":"end","type":"nominal","axis":null,"scale":{"range":[87,219],"padding":0}},"y":{"field":"bar","type":"nominal","axis":null,"scale":{"range":[698,728],"padding":0}}}},
{"data":{"name":"h1"},"mark":{"type":"rect"},"encoding":{"x":{"field":"stage","type":"nominal","sort":null,"scale":{"range":[81,266],"padding":0,"round":true},"axis":{"title":null,"orient":"bottom","offset":-257,"domain":false,"ticks":false,"labelPadding":0,"labelAngle":0,"labelOffset":3,"labelFont":"Liberation Sans","labelFontSize":14,"labelColor":"#555555"}},"y":{"field":"gene","type":"nominal","sort":null,"scale":{"range":[789,1389],"padding":0,"round":true},"axis":{"title":null,"orient":"right","offset":-1024,"domain":false,"ticks":false,"labelPadding":2,"labelOffset":-3,"labelFont":"Liberation Sans","labelFontSize":19,"labelColor":"#333333"}},"color":{"field":"value","type":"quantitative","legend":null,"scale":{"domain":[0,0.1,0.2,0.25,0.31,0.325,0.5,0.6,0.66,0.7,0.85,1],"range":["#52569A","#3F55A2","#5470B5","#6F92CE","#85BDEB","#8DB050","#A3B650","#C0C452","#E0DC50","#F8E84E","#F3DC78","#F0DFB8"],"clamp":true,"zero":false,"nice":false}}}},
{"data":{"name":"h2"},"mark":{"type":"rect"},"encoding":{"x":{"field":"stage","type":"nominal","sort":null,"scale":{"range":[392.7,577.3],"padding":0,"round":true},"axis":{"title":null,"orient":"bottom","offset":-257,"domain":false,"ticks":false,"labelPadding":0,"labelAngle":0,"labelOffset":2,"labelFont":"Liberation Sans","labelFontSize":14,"labelColor":"#555555"}},"y":{"field":"gene","type":"nominal","sort":null,"scale":{"range":[786,1388],"padding":0,"round":true},"axis":{"title":null,"orient":"right","offset":-712.7,"domain":false,"ticks":false,"labelPadding":2,"labelOffset":-3,"labelFont":"Liberation Sans","labelFontSize":19,"labelColor":"#333333"}},"color":{"field":"value","type":"quantitative","legend":null,"scale":{"domain":[0,0.1,0.2,0.25,0.31,0.325,0.5,0.6,0.66,0.7,0.85,1],"range":["#52569A","#3F55A2","#5470B5","#6F92CE","#85BDEB","#8DB050","#A3B650","#C0C452","#E0DC50","#F8E84E","#F3DC78","#F0DFB8"],"clamp":true,"zero":false,"nice":false}}}},
{"data":{"name":"h3"},"mark":{"type":"rect"},"encoding":{"x":{"field":"stage","type":"nominal","sort":null,"scale":{"range":[712.3,898.3],"padding":0,"round":true},"axis":{"title":null,"orient":"bottom","offset":-263.5,"domain":false,"ticks":false,"labelPadding":0,"labelAngle":0,"labelFont":"Liberation Sans","labelFontSize":14,"labelColor":"#555555"}},"y":{"field":"gene","type":"nominal","sort":null,"scale":{"range":[783.9,1388],"padding":0,"round":true},"axis":{"title":null,"orient":"right","offset":-391.7,"domain":false,"ticks":false,"labelPadding":1,"labelOffset":-3,"labelFont":"Liberation Sans","labelFontSize":19,"labelColor":"#333333"}},"color":{"field":"value","type":"quantitative","legend":null,"scale":{"domain":[0,0.1,0.2,0.25,0.31,0.325,0.5,0.6,0.66,0.7,0.85,1],"range":["#52569A","#3F55A2","#5470B5","#6F92CE","#85BDEB","#8DB050","#A3B650","#C0C452","#E0DC50","#F8E84E","#F3DC78","#F0DFB8"],"clamp":true,"zero":false,"nice":false}}}},
{"data":{"name":"h4"},"mark":{"type":"rect"},"encoding":{"x":{"field":"stage","type":"nominal","sort":null,"scale":{"range":[1029,1214.3],"padding":0,"round":true},"axis":{"title":null,"orient":"bottom","offset":-259,"domain":false,"ticks":false,"labelPadding":0,"labelAngle":0,"labelFont":"Liberation Sans","labelFontSize":14,"labelColor":"#555555"}},"y":{"field":"gene","type":"nominal","sort":null,"scale":{"range":[786,1389.7],"padding":0,"round":true},"axis":{"title":null,"orient":"right","offset":-75.7,"domain":false,"ticks":false,"labelPadding":1,"labelOffset":-3,"labelFont":"Liberation Sans","labelFontSize":19,"labelColor":"#333333"}},"color":{"field":"value","type":"quantitative","legend":null,"scale":{"domain":[0,0.1,0.2,0.25,0.31,0.325,0.5,0.6,0.66,0.7,0.85,1],"range":["#52569A","#3F55A2","#5470B5","#6F92CE","#85BDEB","#8DB050","#A3B650","#C0C452","#E0DC50","#F8E84E","#F3DC78","#F0DFB8"],"clamp":true,"zero":false,"nice":false}}}},
{"data":{"name":"d1"},"layer":[
{"mark":{"type":"rule","color":"#4a4a4a","strokeWidth":1.3},"encoding":{"x":{"field":"d","type":"quantitative","axis":null,"scale":{"domain":[0,60],"range":[81,21],"nice":false,"zero":false}},"y":{"field":"r1","type":"quantitative","axis":null,"scale":{"domain":[0,15],"range":[789,1389],"nice":false,"zero":false}},"y2":{"field":"r2"}}},
{"mark":{"type":"rule","color":"#4a4a4a","strokeWidth":1.3},"encoding":{"x":{"field":"d","type":"quantitative","axis":null,"scale":{"domain":[0,60],"range":[81,21],"nice":false,"zero":false}},"x2":{"field":"d1"},"y":{"field":"r1","type":"quantitative","axis":null,"scale":{"domain":[0,15],"range":[789,1389],"nice":false,"zero":false}}}},
{"mark":{"type":"rule","color":"#4a4a4a","strokeWidth":1.3},"encoding":{"x":{"field":"d","type":"quantitative","axis":null,"scale":{"domain":[0,60],"range":[81,21],"nice":false,"zero":false}},"x2":{"field":"d2"},"y":{"field":"r2","type":"quantitative","axis":null,"scale":{"domain":[0,15],"range":[789,1389],"nice":false,"zero":false}}}}]},
{"data":{"name":"d2"},"layer":[
{"mark":{"type":"rule","color":"#4a4a4a","strokeWidth":1.3},"encoding":{"x":{"field":"d","type":"quantitative","axis":null,"scale":{"domain":[0,60],"range":[392.7,332.7],"nice":false,"zero":false}},"y":{"field":"r1","type":"quantitative","axis":null,"scale":{"domain":[0,15],"range":[785.2,1388],"nice":false,"zero":false}},"y2":{"field":"r2"}}},
{"mark":{"type":"rule","color":"#4a4a4a","strokeWidth":1.3},"encoding":{"x":{"field":"d","type":"quantitative","axis":null,"scale":{"domain":[0,60],"range":[392.7,332.7],"nice":false,"zero":false}},"x2":{"field":"d1"},"y":{"field":"r1","type":"quantitative","axis":null,"scale":{"domain":[0,15],"range":[785.2,1388],"nice":false,"zero":false}}}},
{"mark":{"type":"rule","color":"#4a4a4a","strokeWidth":1.3},"encoding":{"x":{"field":"d","type":"quantitative","axis":null,"scale":{"domain":[0,60],"range":[392.7,332.7],"nice":false,"zero":false}},"x2":{"field":"d2"},"y":{"field":"r2","type":"quantitative","axis":null,"scale":{"domain":[0,15],"range":[785.2,1388],"nice":false,"zero":false}}}}]},
{"data":{"name":"d3"},"layer":[
{"mark":{"type":"rule","color":"#4a4a4a","strokeWidth":1.3},"encoding":{"x":{"field":"d","type":"quantitative","axis":null,"scale":{"domain":[0,60],"range":[712.3,652.3],"nice":false,"zero":false}},"y":{"field":"r1","type":"quantitative","axis":null,"scale":{"domain":[0,14],"range":[783.9,1388],"nice":false,"zero":false}},"y2":{"field":"r2"}}},
{"mark":{"type":"rule","color":"#4a4a4a","strokeWidth":1.3},"encoding":{"x":{"field":"d","type":"quantitative","axis":null,"scale":{"domain":[0,60],"range":[712.3,652.3],"nice":false,"zero":false}},"x2":{"field":"d1"},"y":{"field":"r1","type":"quantitative","axis":null,"scale":{"domain":[0,14],"range":[783.9,1388],"nice":false,"zero":false}}}},
{"mark":{"type":"rule","color":"#4a4a4a","strokeWidth":1.3},"encoding":{"x":{"field":"d","type":"quantitative","axis":null,"scale":{"domain":[0,60],"range":[712.3,652.3],"nice":false,"zero":false}},"x2":{"field":"d2"},"y":{"field":"r2","type":"quantitative","axis":null,"scale":{"domain":[0,14],"range":[783.9,1388],"nice":false,"zero":false}}}}]},
{"data":{"name":"d4"},"layer":[
{"mark":{"type":"rule","color":"#4a4a4a","strokeWidth":1.3},"encoding":{"x":{"field":"d","type":"quantitative","axis":null,"scale":{"domain":[0,60],"range":[1029,969],"nice":false,"zero":false}},"y":{"field":"r1","type":"quantitative","axis":null,"scale":{"domain":[0,14],"range":[786,1389.7],"nice":false,"zero":false}},"y2":{"field":"r2"}}},
{"mark":{"type":"rule","color":"#4a4a4a","strokeWidth":1.3},"encoding":{"x":{"field":"d","type":"quantitative","axis":null,"scale":{"domain":[0,60],"range":[1029,969],"nice":false,"zero":false}},"x2":{"field":"d1"},"y":{"field":"r1","type":"quantitative","axis":null,"scale":{"domain":[0,14],"range":[786,1389.7],"nice":false,"zero":false}}}},
{"mark":{"type":"rule","color":"#4a4a4a","strokeWidth":1.3},"encoding":{"x":{"field":"d","type":"quantitative","axis":null,"scale":{"domain":[0,60],"range":[1029,969],"nice":false,"zero":false}},"x2":{"field":"d2"},"y":{"field":"r2","type":"quantitative","axis":null,"scale":{"domain":[0,14],"range":[786,1389.7],"nice":false,"zero":false}}}}]}
]}
